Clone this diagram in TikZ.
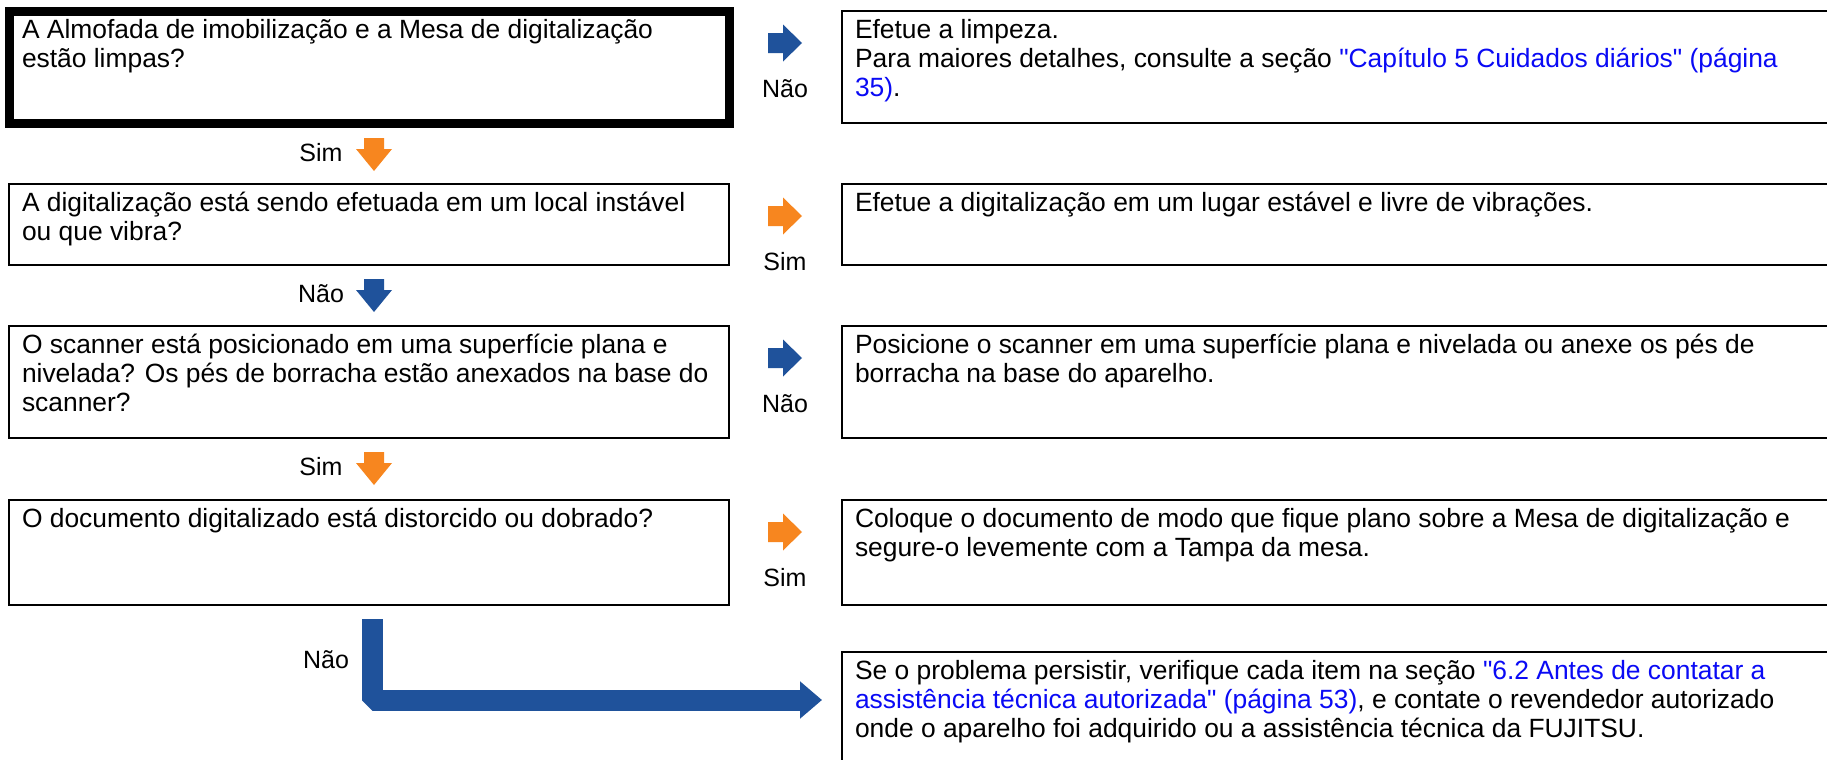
\documentclass[tikz,border=0pt]{standalone}
\usepackage{fontspec}
\setmainfont{Liberation Sans}[Ligatures=TeXOff]
\usetikzlibrary{arrows.meta,positioning,calc}
\definecolor{nao}{RGB}{31,82,155}
\definecolor{sim}{RGB}{247,134,31}
\definecolor{link}{RGB}{10,10,245}
\newcommand{\lnk}[1]{\textcolor{link}{#1}}
\newcommand{\qtxt}[2]{\parbox[c][#1][t]{347pt}{\raggedright #2}}
\newcommand{\atxt}[2]{\parbox[c][#1][t]{481pt}{\raggedright #2}}
\tikzset{
  box/.style={draw,line width=1pt,anchor=north west,outer sep=0pt,inner xsep=6.5pt,inner ysep=4pt,font=\fontsize{13.2}{14.5}\selectfont},
  firstbox/.style={box,line width=4.5pt},
  lab/.style={font=\fontsize{12.5}{14.5}\selectfont,inner sep=0pt},
  bigflow/.style={line width=10.5pt,draw=nao,line join=bevel,-{Triangle[length=11pt,width=18pt]}},
  pics/rarr/.style={code={\fill[#1] (0,-5pt) -- (7.5pt,-5pt) -- (7.5pt,-9.25pt) -- (17pt,0pt) -- (7.5pt,9.25pt) -- (7.5pt,5pt) -- (0,5pt) -- cycle;}},
  pics/darr/.style={code={\fill[#1] (-5pt,0) -- (5pt,0) -- (5pt,-5.5pt) -- (9pt,-5.5pt) -- (0,-16.5pt) -- (-9pt,-5.5pt) -- (-5pt,-5.5pt) -- cycle;}},
}
\begin{document}
\begin{tikzpicture}[x=0.5pt,y=-0.5pt]
\fill[white] (0,0) rectangle (1827,760);
\useasboundingbox (0,0) rectangle (1827,760);
% questions
\node[firstbox] (q1) at (9,11) {\qtxt{48pt}{A Almofada de imobilização e a Mesa de digitalização\\ estão limpas?}};
\node[box] (q2) at (9,184) {\qtxt{32.5pt}{A digitalização está sendo efetuada em um local instável\\ ou que vibra?}};
\node[box] (q3) at (9,326) {\qtxt{48pt}{O scanner está posicionado em uma superfície plana e\\ nivelada? Os pés de borracha estão anexados na base do\\ scanner?}};
\node[box] (q4) at (9,500) {\qtxt{44.5pt}{O documento digitalizado está distorcido ou dobrado?}};
% answers
\node[box] (a1) at (842,11) {\atxt{48pt}{Efetue a limpeza.\\ Para maiores detalhes, consulte a seção \lnk{"Capítulo 5 Cuidados diários" (página}\\ \lnk{35)}.}};
\node[box] (a2) at (842,184) {\atxt{32.5pt}{Efetue a digitalização em um lugar estável e livre de vibrações.}};
\node[box] (a3) at (842,326) {\atxt{48pt}{Posicione o scanner em uma superfície plana e nivelada ou anexe os pés de\\ borracha na base do aparelho.}};
\node[box] (a4) at (842,500) {\atxt{44.5pt}{Coloque o documento de modo que fique plano sobre a Mesa de digitalização e\\ segure-o levemente com a Tampa da mesa.}};
\node[box] (fim) at (842,652) {\atxt{48.5pt}{Se o problema persistir, verifique cada item na seção \lnk{"6.2 Antes de contatar a}\\ \lnk{assistência técnica autorizada" (página 53)}, e contate o revendedor autorizado\\ onde o aparelho foi adquirido ou a assistência técnica da FUJITSU.}};
% down arrows
\foreach \y/\t/\c [count=\i] in {138/Sim/sim,279/Não/nao,452/Sim/sim}{
  \pic at (374,\y) {darr=\c};
  \node[lab] (d\i) at (321,\y+15) {\t};
}
% right arrows
\foreach \y/\t/\c [count=\i] in {43/Não/nao,216/Sim/sim,358/Não/nao,532/Sim/sim}{
  \pic at (768,\y) {rarr=\c};
  \node[lab] (r\i) at (785,\y+46) {\t};
}
% last step
\coordinate (lstart) at ($(q4.south west)+(363.5,14)$);
\coordinate (lend) at ($(fim.north west)+(-20,48)$);
\node[lab] (n5) at (326,660) {Não};
\draw[bigflow] (lstart) |- (lend);
\end{tikzpicture}
\end{document}
